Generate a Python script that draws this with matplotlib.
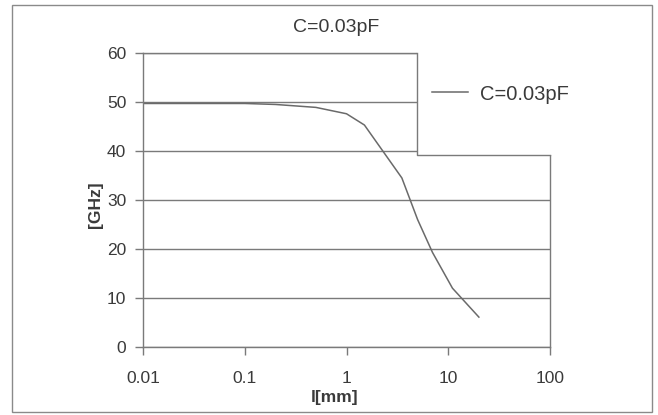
import matplotlib.pyplot as plt
from matplotlib.patches import Rectangle

plt.rcParams['font.family'] = ['Liberation Sans', 'DejaVu Sans']

# data
l_mm = [0.01, 0.1, 0.2, 0.5, 1, 1.5, 3.5, 5, 7, 11, 20]
f_ghz = [49.7, 49.7, 49.5, 48.9, 47.6, 45.3, 34.5, 26.0, 19.3, 12.0, 6.1]
series_name = 'C=0.03pF'
x_ticks = [0.01, 0.1, 1, 10, 100]
x_labels = ['0.01', '0.1', '1', '10', '100']
y_ticks = [0, 10, 20, 30, 40, 50, 60]

W, H = 658, 415
line_c = '#7a7a7a'
text_c = '#3a3a3a'

fig = plt.figure(figsize=(W / 100, H / 100), dpi=100)

# outer chart border
fig.patches.append(Rectangle((12 / W, 1 - 412 / H), 640 / W, 407 / H,
                             transform=fig.transFigure, fill=False,
                             edgecolor='#8a8a8a', lw=1))

ax = fig.add_axes([143 / W, 1 - 347 / H, 407 / W, 294 / H])
ax.set_xscale('log')
ax.set_xlim(0.01, 100)
ax.set_ylim(0, 60)
ax.set_xticks(x_ticks)
ax.set_xticklabels(x_labels)
ax.minorticks_off()
ax.set_yticks(y_ticks)

ax.grid(axis='y', color=line_c, lw=1)
ax.set_axisbelow(True)
for s in ax.spines.values():
    s.set_color(line_c)
    s.set_linewidth(1)
ax.tick_params(colors=line_c, labelcolor=text_c, labelsize=12.5,
               direction='out', length=6, width=1)
ax.tick_params(axis='x', pad=11)
ax.tick_params(axis='y', pad=6)

ax.plot(l_mm, f_ghz, color='#6a6a6a', lw=1.1, label=series_name, zorder=2)

# legend box covering the top right of the plot area
lx, ly = 0.673, 0.653
ax.add_patch(Rectangle((lx, ly), 1.01 - lx, 1.01 - ly, transform=ax.transAxes,
                       facecolor='white', edgecolor='none', zorder=4,
                       clip_on=False))
ax.plot([lx, lx, 1], [1, ly, ly], transform=ax.transAxes, color=line_c,
        lw=1, zorder=5, clip_on=False)
ax.legend(loc='center left', bbox_to_anchor=(432 / W, 1 - 94 / H),
          bbox_transform=fig.transFigure, frameon=False, fontsize=14.5,
          handlelength=1.8, handletextpad=0.6, borderpad=0,
          borderaxespad=0, labelcolor=text_c).set_zorder(6)

fig.text(336 / W, 1 - 28 / H, series_name, ha='center', va='center',
         fontsize=14, color=text_c)
fig.text(335 / W, 1 - 397 / H, 'l[mm]', ha='center', va='center',
         fontsize=12.5, fontweight='bold', color=text_c)
fig.text(95 / W, 1 - 205 / H, '[GHz]', ha='center', va='center',
         rotation=90, fontsize=12.5, fontweight='bold', color=text_c)

fig.savefig('out.png', dpi=100, facecolor='white')
